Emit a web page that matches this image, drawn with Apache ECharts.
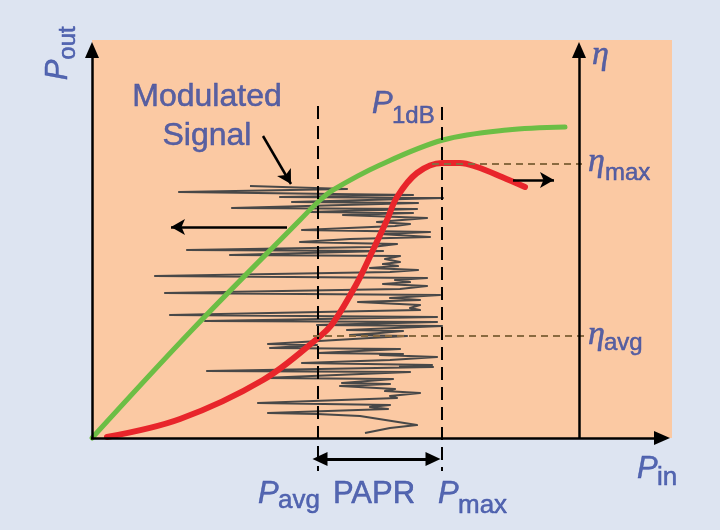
<!DOCTYPE html>
<html><head><meta charset="utf-8">
<script src="https://cdn.jsdelivr.net/npm/echarts/dist/echarts.min.js"></script>
<style>html,body{margin:0;padding:0;background:#dde4f1}#c{width:720px;height:530px}</style>
</head><body><div id="c"></div>
<script>
// ---- Diagram data (arbitrary power units) ----
const pinMax = 578, poutMax = 398;
// Output power (AM-AM) curve
const gainCurve = [[0,0],[100,108],[208,218],[226,236],[241,248],[288,273],[351,298],[415,308],[473,311]];
// Efficiency curve
const effCurve = [[15,1],[88,19],[171,58],[226,100],[241,115],[265,155],[281,188],[295,218],[305,241],[325,265],[350,275],[368,275],[385,271],[410,261],[433,251]];
// Modulated signal envelope trace (input level vs time, time running downward)
const signalTrace = [[158,252],[255,249],[87,246],[321,243],[188,241],[351,240],[200,236],[326,235],[140,230],[325,229],[218,226],[321,225],[251,223],[335,220],[285,216],[318,214],[303,212],[210,208],[338,206],[288,204],[338,201],[258,199],[208,196],[253,195],[305,194],[280,191],[95,188],[291,187],[138,183],[308,182],[293,179],[308,176],[291,174],[306,172],[278,170],[326,168],[298,166],[63,162],[335,160],[303,158],[318,156],[291,154],[335,152],[308,149],[73,145],[348,143],[298,140],[328,138],[266,136],[328,133],[318,130],[328,128],[78,123],[345,121],[113,117],[345,116],[225,113],[350,112],[255,108],[311,107],[288,105],[258,103],[315,102],[278,100],[176,94],[225,93],[178,90],[308,89],[226,85],[311,84],[288,83],[345,81],[298,78],[210,75],[340,73],[308,72],[341,71],[115,67],[318,66],[171,60],[301,59],[250,55],[298,54],[248,52],[303,49],[293,47],[328,45],[298,42],[305,40],[166,35],[298,33],[278,31],[296,29],[176,25],[225,24],[268,22],[325,13],[298,10],[273,5]];
const pAvg = 226, pMax = 350, etaMax = 274, etaAvg = 102, etaAxis = 487;
const texts = {modulated:'Modulated', signal:'Signal', P:'P', eta:'η', sub1dB:'1dB', max:'max', avg:'avg', papr:'PAPR', sin:'in', sout:'out'};

const blue = '#3146a0';
const font = 'Liberation Sans, Arial, Helvetica, sans-serif';
const serif = 'Liberation Serif, DejaVu Serif, serif';
function txt(t, x, y, size, italic, align, rotate, family) {
  return { name: t, value: [x, y], label: { show: true, position: 'inside', formatter: '{b}',
    color: blue, fontFamily: family || font, fontSize: size, lineHeight: size,
    textBorderColor: blue, textBorderWidth: 0.5,
    fontStyle: italic ? 'italic' : 'normal', align: align || 'left', verticalAlign: 'middle', rotate: rotate || 0 } };
}
function seg(a, b) { return [{ coord: a }, { coord: b }]; }

const chart = echarts.init(document.getElementById('c'));
chart.setOption({
  animation: false,
  backgroundColor: '#dde4f1',
  grid: { left: 0, right: 0, top: 0, bottom: 0 },
  xAxis: { type: 'value', min: -92, max: 628, show: false },
  yAxis: { type: 'value', min: -92, max: 438, show: false },
  series: [
    { type: 'line', data: [], z: 0, silent: true,
      markArea: { silent: true, itemStyle: { color: '#fbc9a3' }, data: [[{ coord: [0, 0] }, { coord: [pinMax + 2, poutMax] }]] } },
    { type: 'line', data: signalTrace, z: 2, showSymbol: false, silent: true,
      lineStyle: { color: '#484848', width: 2.2, join: 'round' } },
    { type: 'line', data: gainCurve, z: 3, showSymbol: false, smooth: 0.35, silent: true,
      lineStyle: { color: '#6cbe45', width: 5, cap: 'round' } },
    { type: 'line', data: effCurve, z: 3, showSymbol: false, smooth: 0.35, silent: true,
      lineStyle: { color: '#e8252b', width: 6, cap: 'round' } },
    // dashed verticals
    { type: 'line', data: [], z: 4, silent: true,
      markLine: { silent: true, symbol: ['none', 'none'], label: { show: false },
        lineStyle: { color: '#000', width: 2, type: [13, 7] },
        data: [seg([pAvg, 332], [pAvg, -33]), seg([pMax, 331], [pMax, -33])] } },
    // brown dashed efficiency levels
    { type: 'line', data: [], z: 4, silent: true,
      markLine: { silent: true, symbol: ['none', 'none'], label: { show: false },
        lineStyle: { color: '#8a6a40', width: 2, type: [7, 5] },
        data: [seg([340, etaMax], [490, etaMax]), seg([221, etaAvg], [494, etaAvg])] } },
    // axes
    { type: 'line', data: [], z: 5, silent: true,
      markLine: { silent: true, symbol: ['none', 'triangle'], symbolSize: [14, 16], label: { show: false },
        lineStyle: { color: '#000', width: 2.5, type: 'solid' },
        data: [seg([0, 0], [0, 388]), seg([-1, 0], [570, 0]), seg([etaAxis, 0], [etaAxis, 388])] } },
    // pointer arrows
    { type: 'line', data: [], z: 5, silent: true,
      markLine: { silent: true, symbol: ['none', 'arrow'], symbolSize: [12, 14], label: { show: false },
        lineStyle: { color: '#000', width: 2.5, type: 'solid' },
        data: [seg([195, 211], [79, 211]), seg([421, 258], [462, 258]), seg([171, 302], [199, 254])] } },
    // PAPR double arrow
    { type: 'line', data: [], z: 5, silent: true,
      markLine: { silent: true, symbol: ['triangle', 'triangle'], symbolSize: [14, 15], label: { show: false },
        lineStyle: { color: '#000', width: 3, type: 'solid' },
        data: [seg([228, -21], [341, -21])] } },
    // text
    { type: 'scatter', z: 6, symbolSize: 1, itemStyle: { color: 'rgba(0,0,0,0)' }, silent: true,
      data: [
        txt(texts.modulated, 115, 341, 32, false, 'center'),
        txt(texts.signal, 115, 302, 32, false, 'center'),
        txt(texts.P, 280, 334, 31, true),
        txt(texts.sub1dB, 300, 322, 24, false),
        txt(texts.eta, 500, 383, 34, true, 'left', 0, serif),
        txt(texts.eta, 496, 276, 34, true, 'left', 0, serif),
        txt(texts.max, 513, 265, 24, false),
        txt(texts.eta, 496, 103, 34, true, 'left', 0, serif),
        txt(texts.avg, 512, 95, 24, false),
        txt(texts.P, 166, -56, 31, true),
        txt(texts.avg, 186, -63, 26, false),
        txt(texts.papr, 282, -56, 31, false, 'center'),
        txt(texts.P, 346, -56, 31, true),
        txt(texts.max, 366, -68, 26, false),
        txt(texts.P, 545, -31, 31, true),
        txt(texts.sin, 565, -40, 26, false),
        txt(texts.P, -34, 368, 31, true, 'center', 90),
        txt(texts.sout, -24, 395, 24, false, 'center', 90)
      ] }
  ]
});
</script></body></html>
